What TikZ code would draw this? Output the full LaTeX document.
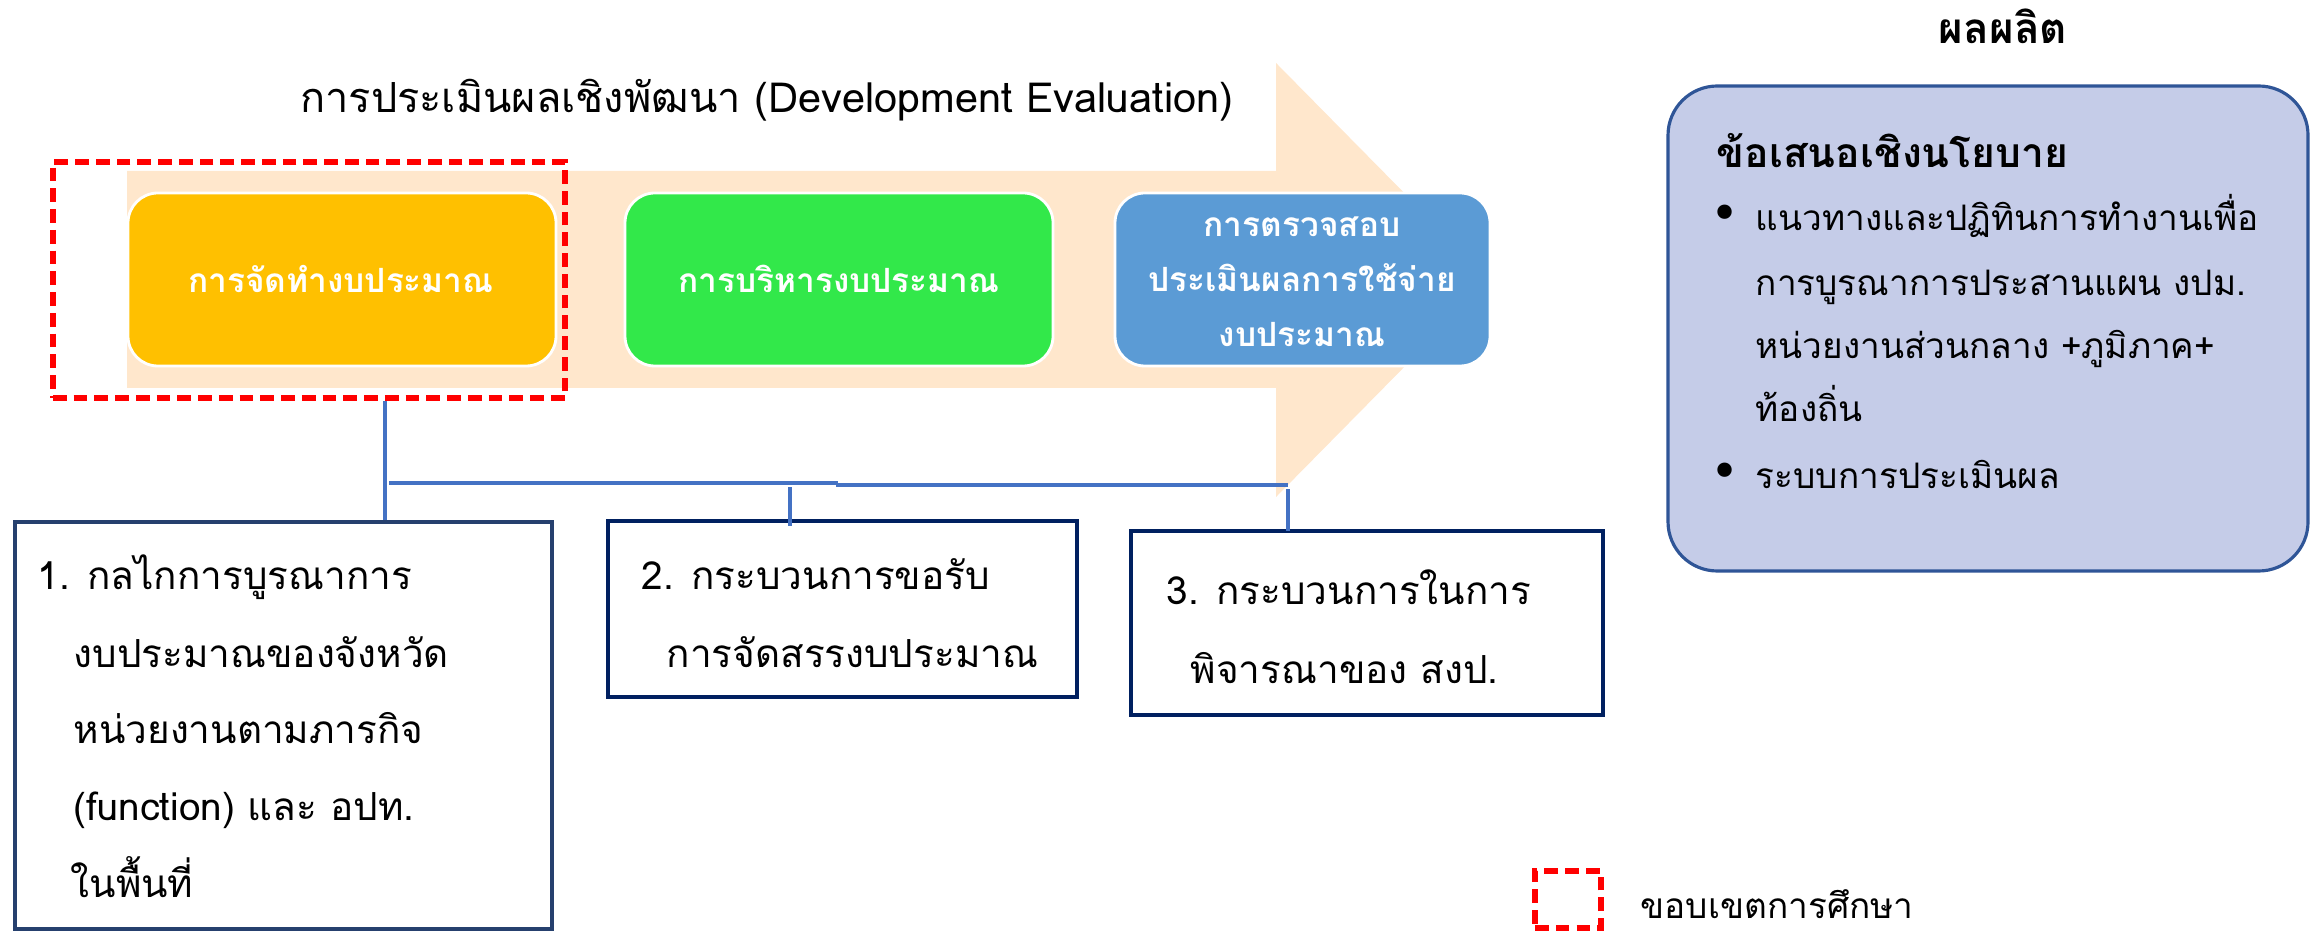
\documentclass[tikz,border=0pt]{standalone}
\usepackage{fontspec}
\setmainfont{Loma}[Script=Thai]
\newfontfamily\dejavu{DejaVu Sans}
\usetikzlibrary{fit}
\definecolor{peach}{RGB}{255,231,204}
\definecolor{orangebox}{RGB}{255,192,0}
\definecolor{greenbox}{RGB}{50,232,74}
\definecolor{bluebox}{RGB}{91,155,213}
\definecolor{conncol}{RGB}{68,114,196}
\definecolor{navyA}{RGB}{38,64,110}
\definecolor{navyB}{RGB}{0,32,96}
\definecolor{panelfill}{RGB}{197,204,232}
\definecolor{panelline}{RGB}{47,85,151}
\tikzset{
  phase/.style={draw=white, line width=0.8pt, rounded corners=8.5pt, inner sep=0pt},
  phasetext/.style={anchor=base, text=white, font=\bfseries\fontsize{9.5}{12}\selectfont, inner sep=0pt},
  procbox/.style={draw=navyB, line width=1.15pt, fill=white, inner sep=0pt},
  scopebox/.style={draw=red, line width=1.7pt, dash pattern=on 3.9pt off 2pt, inner sep=0pt},
  conn/.style={draw=conncol, line width=0.9pt},
  connh/.style={draw=conncol, line width=1.25pt},
  bodytext/.style={anchor=base west, font=\fontsize{11}{14}\selectfont, inner sep=0pt},
  paneltext/.style={anchor=base west, font=\fontsize{10}{13}\selectfont, inner sep=0pt},
  bullet/.style={anchor=base, font=\dejavu\fontsize{14}{16}\selectfont, inner sep=0pt},
}
\begin{document}
\begin{tikzpicture}[x=0.01cm, y=-0.01cm]
\useasboundingbox (0,0) rectangle (2316,931);
% big arrow
\fill[peach] (127,171) -- (1276,171) -- (1276,63) -- (1490,280) -- (1276,497) -- (1276,388) -- (127,388) -- cycle;
% title
\node[anchor=base, font=\fontsize{11.8}{15}\selectfont, inner sep=0pt] (title) at (767,113) {การประเมินผลเชิงพัฒนา (Development Evaluation)};
% phase boxes
\node[phase, fill=orangebox, fit={(128,193) (556,366)}] (p1) {};
\node[phase, fill=greenbox, fit={(625,193) (1053,366)}] (p2) {};
\node[phase, fill=bluebox, fit={(1115,193) (1490,366)}] (p3) {};
\node[phasetext] (p1t) at (341,293) {การจัดทำงบประมาณ};
\node[phasetext] (p2t) at (839,293) {การบริหารงบประมาณ};
\node[phasetext] (p3a) at (1302,237) {การตรวจสอบ};
\node[phasetext] (p3b) at (1302,292) {ประเมินผลการใช้จ่าย};
\node[phasetext] (p3c) at (1302,347) {งบประมาณ};
% study scope
\node[scopebox, fit={(53,162) (565,398)}] (scope) {};
% process boxes
\node[procbox, draw=navyA, fit={(15,522) (552,929)}] (b1) {};
\node[procbox, fit={(608,521) (1077,697)}] (b2) {};
\node[procbox, fit={(1131,531) (1603,715)}] (b3) {};
\node[bodytext] (b1a) at (37,590) {1. กลไกการบูรณาการ};
\node[bodytext] (b1b) at (73,667) {งบประมาณของจังหวัด};
\node[bodytext] (b1c) at (73,743) {หน่วยงานตามภารกิจ};
\node[bodytext] (b1d) at (73,820) {(function) และ อปท.};
\node[bodytext] (b1e) at (70,897) {ในพื้นที่};
\node[bodytext] (b2a) at (641,590) {2. กระบวนการขอรับ};
\node[bodytext] (b2b) at (666,667) {การจัดสรรงบประมาณ};
\node[bodytext] (b3a) at (1166,604) {3. กระบวนการในการ};
\node[bodytext] (b3b) at (1190,683) {พิจารณาของ สงป.};
% connectors
\coordinate (c1) at (385,483);
\coordinate (c2) at (790,483);
\coordinate (c3) at (1288,485);
\draw[conn] (c1 |- scope.south) -- (c1 |- b1.north);
\draw[connh] (389,483) -- (838,483);
\draw[connh] (836,485) -- (c3);
\draw[conn] ([yshift=-1.2pt]c2) -- ([yshift=-2pt]c2 |- b2.north);
\draw[conn] ([yshift=-1.2pt]c3) -- ([yshift=-0.5pt]c3 |- b3.north);
% output panel
\node[anchor=base, font=\bfseries\fontsize{12}{15}\selectfont, inner sep=0pt] (outt) at (2003,44) {ผลผลิต};
\node[draw=panelline, line width=0.9pt, fill=panelfill, rounded corners=14pt, inner sep=0pt, fit={(1668,86) (2308,571)}] (panel) {};
\node[anchor=base west, font=\bfseries\fontsize{11.6}{15}\selectfont, inner sep=0pt] (ph) at (1716,168) {ข้อเสนอเชิงนโยบาย};
\node[bullet] (bul1) at (1725,231) {•};
\node[paneltext] (l1) at (1755,231) {แนวทางและปฏิทินการทำงานเพื่อ};
\node[paneltext] (l2) at (1755,296) {การบูรณาการประสานแผน งปม.};
\node[paneltext] (l3) at (1755,359) {หน่วยงานส่วนกลาง +ภูมิภาค+};
\node[paneltext] (l4) at (1755,422) {ท้องถิ่น};
\node[bullet] (bul2) at (1725,489) {•};
\node[paneltext] (l5) at (1755,489) {ระบบการประเมินผล};
% legend
\node[scopebox, fit={(1535,871) (1601,928)}] (legbox) {};
\node[anchor=base west, font=\fontsize{10}{12}\selectfont, inner sep=0pt] (legt) at (1640,918) {ขอบเขตการศึกษา};
\end{tikzpicture}
\end{document}
